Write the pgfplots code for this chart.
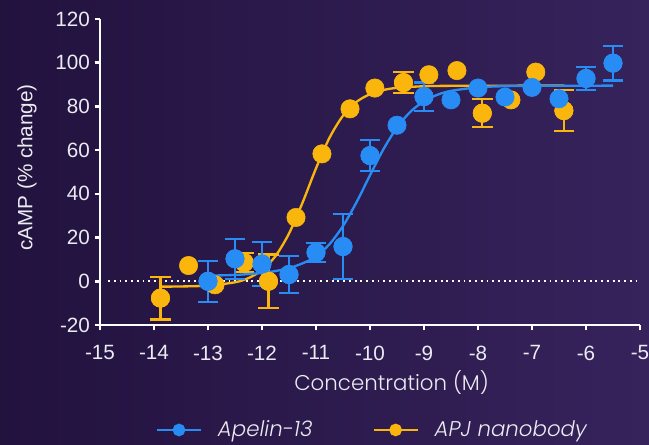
\documentclass[border=0pt]{standalone}
\usepackage{pgfplots}
\pgfplotsset{compat=1.18}
\usepackage{pgfplotstable}
\usepackage{fontspec}
\setmainfont{Liberation Sans}
\newfontfamily\poppins{Poppins}[UprightFont=* Light, ItalicFont=* Light Italic]
\definecolor{bgA}{RGB}{34,18,62}
\definecolor{bgB}{RGB}{54,35,92}
\definecolor{cblue}{RGB}{40,140,245}
\definecolor{cyel}{RGB}{250,182,12}
\definecolor{txt}{RGB}{235,235,242}

\pgfplotstableread{
x y
-13.0 0.0
-12.5 10.3
-12.0 7.9
-11.5 3.1
-11.0 13.2
-10.5 15.9
-10.0 57.5
-9.5 71.4
-9.0 84.5
-8.5 83.0
-8.0 88.4
-7.5 84.3
-7.0 88.7
-6.5 83.5
-6.0 92.8
-5.5 99.8
}\apelin
\pgfplotstableread{
x y e
-13.0 0.0 9.4
-12.5 10.3 9.2
-12.0 7.9 10.2
-11.5 3.1 8.3
-11.0 13.2 4.3
-10.5 15.9 15.0
-10.0 57.5 7.0
-9.0 84.5 6.5
-6.0 92.8 5.4
-5.5 99.8 8.0
}\apelinerr
\pgfplotstableread{
x y
-13.88 -7.7
-13.36 7.2
-12.87 -1.6
-12.33 8.6
-11.88 0.0
-11.37 29.2
-10.89 58.3
-10.37 78.9
-9.91 88.4
-9.38 90.9
-8.91 94.5
-8.39 96.4
-7.92 76.9
-7.39 83.0
-6.93 95.7
-6.41 78.1
}\nano
\pgfplotstableread{
x y e
-13.88 -7.7 9.8
-12.33 8.6 4.2
-11.88 0.0 12.3
-9.38 90.9 4.9
-7.92 76.9 6.4
-6.41 78.1 9.3
}\nanoerr

\begin{document}
\begin{tikzpicture}[x=0.75pt,y=0.75pt]
\shade[left color=bgA, right color=bgB] (0,0) rectangle (649,445);
\path[use as bounding box] (0,0) rectangle (649,445);
\begin{axis}[
  at={(75pt,90pt)}, anchor=south west,
  scale only axis, width=405pt, height=229.5pt,
  xmin=-15, xmax=-5, ymin=-20, ymax=120,
  xtick={-15,-14,...,-5}, ytick={-20,0,...,120},
  axis lines*=left,
  axis line style={white, line width=2pt},
  every tick/.style={white, line width=2pt},
  tick align=outside, major tick length=4pt,
  /pgf/number format/assume math mode=true,
  tick label style={txt, font=\fontsize{15.5}{18}\selectfont},
  xticklabel style={yshift=-8pt},
  xlabel={\poppins Concentration (M)},
  ylabel={cAMP (\% change)},
  every axis x label/.style={at={(axis description cs:0.54,0)}, anchor=center, yshift=-43pt, txt, font=\fontsize{16}{19}\selectfont},
  every axis y label/.style={at={(axis description cs:-0.135,0.515)}, anchor=center, rotate=90, txt, font=\fontsize{15.5}{18}\selectfont},
  clip=false,
  legend columns=2,
  legend style={at={(0.505,-0.343)}, anchor=center, draw=none, fill=none, text=txt, font=\poppins\itshape\fontsize{16}{19}\selectfont,
    /tikz/every odd column/.append style={column sep=10pt},
    /tikz/every even column/.append style={column sep=43pt}},
  legend image code/.code={\draw[mark repeat=2,mark phase=2,#1] plot coordinates {(0pt,0pt) (16.5pt,0pt) (33pt,0pt)};},
]
\addlegendimage{cblue, line width=1.5pt, mark=*, mark size=4pt, mark options={draw=none, fill=cblue}}
\addlegendentry{Apelin-13}
\addlegendimage{cyel, line width=1.5pt, mark=*, mark size=4pt, mark options={draw=none, fill=cyel}}
\addlegendentry{APJ nanobody}

\draw[white, line width=1.4pt, dash pattern=on 1.4pt off 2.9pt] (axis cs:-14.85,0) -- (axis cs:-5.05,0);

% APJ nanobody
\addplot[cyel, line width=1.75pt, smooth, mark=none, forget plot] coordinates {
(-13.9,-2.46) (-13.5,-2.37) (-13.0,-1.98) (-12.5,-0.46) (-12.25,1.48) (-12.0,5.12)
(-11.75,11.55) (-11.5,21.84) (-11.25,35.94) (-11.0,51.68) (-10.75,65.65) (-10.5,75.77)
(-10.25,82.07) (-10.0,85.61) (-9.75,87.51) (-9.5,88.49) (-9.0,89.24) (-8.5,89.43)
(-8.0,89.48) (-7.0,89.5) (-6.4,89.5)};
\addplot[cyel, only marks, mark=*, mark size=6.9pt, mark options={draw=none, fill=cyel}, forget plot,
  error bars/.cd, y dir=both, y explicit,
  error bar style={cyel, line width=1.7pt},
  error mark options={cyel, line width=1.7pt, mark size=7.7pt, rotate=90}]
  table[x=x, y=y, y error=e] {\nanoerr};
\addplot[cyel, only marks, mark=*, mark size=6.9pt, mark options={draw=none, fill=cyel}, forget plot] table[x=x, y=y] {\nano};

% Apelin-13
\addplot[cblue, line width=1.75pt, smooth, mark=none, forget plot] coordinates {
(-13.0,2.6) (-12.5,2.9) (-12.0,3.8) (-11.75,4.7) (-11.5,6.0) (-11.25,8.2)
(-11.0,11.28) (-10.75,16.97) (-10.5,25.29) (-10.25,36.16) (-10.0,48.5) (-9.75,60.46)
(-9.5,70.37) (-9.25,77.6) (-9.0,82.38) (-8.75,85.35) (-8.5,87.11) (-8.0,88.73)
(-7.5,89.26) (-7.0,89.42) (-6.5,89.47) (-6.0,89.49) (-5.5,89.5)};
\addplot[cblue, only marks, mark=*, mark size=6.9pt, mark options={draw=none, fill=cblue}, forget plot,
  error bars/.cd, y dir=both, y explicit,
  error bar style={cblue, line width=1.7pt},
  error mark options={cblue, line width=1.7pt, mark size=7.7pt, rotate=90}]
  table[x=x, y=y, y error=e] {\apelinerr};
\addplot[cblue, only marks, mark=*, mark size=6.9pt, mark options={draw=none, fill=cblue}, forget plot] table[x=x, y=y] {\apelin};
\end{axis}
\end{tikzpicture}
\end{document}
